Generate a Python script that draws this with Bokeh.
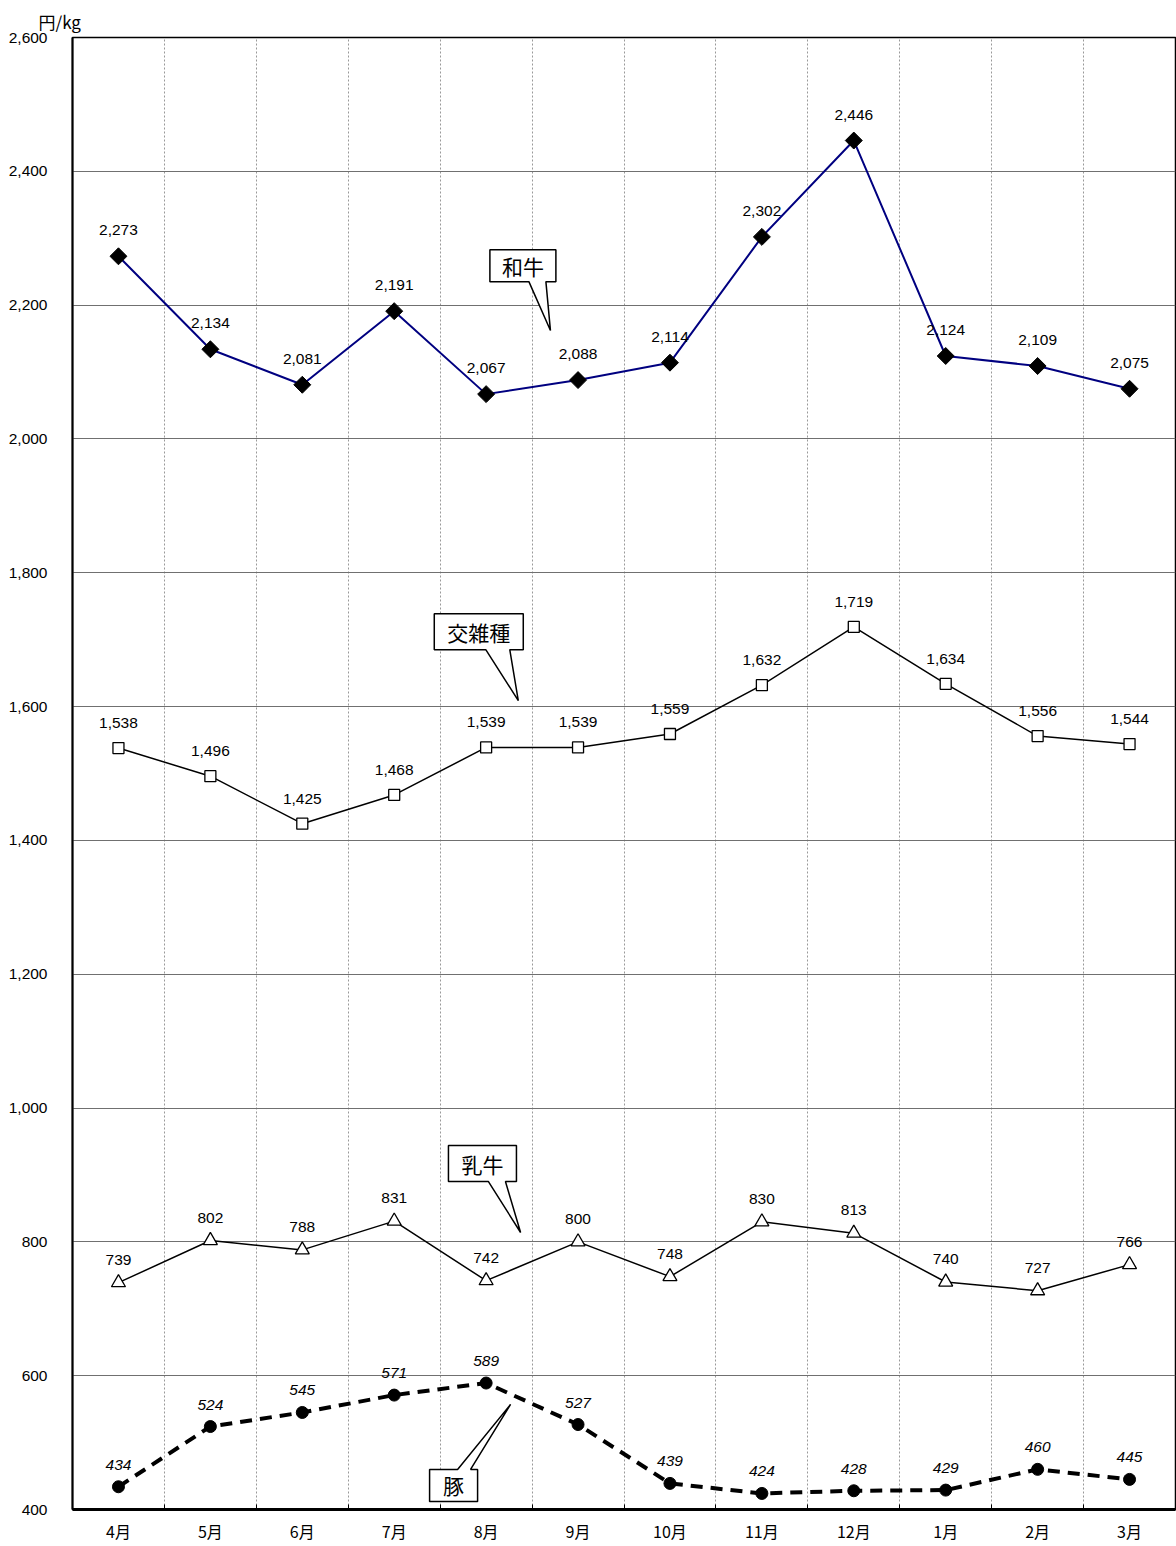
import math
from bokeh.plotting import figure
from bokeh.models import Range1d, FixedTicker, NumeralTickFormatter
from bokeh.core.properties import value
from bokeh.embed import file_html
from bokeh.resources import INLINE

months = ["4月", "5月", "6月", "7月", "8月", "9月", "10月", "11月", "12月", "1月", "2月", "3月"]
wagyu = [2273, 2134, 2081, 2191, 2067, 2088, 2114, 2302, 2446, 2124, 2109, 2075]
kozatsu = [1538, 1496, 1425, 1468, 1539, 1539, 1559, 1632, 1719, 1634, 1556, 1544]
nyugyu = [739, 802, 788, 831, 742, 800, 748, 830, 813, 740, 727, 766]
buta = [434, 524, 545, 571, 589, 527, 439, 424, 428, 429, 460, 445]
y_ticks = [400, 600, 800, 1000, 1200, 1400, 1600, 1800, 2000, 2200, 2400, 2600]

CJK = "Noto Sans CJK JP"
NUM = "Liberation Sans"
W, H = 1176, 1546
ML, MR, MT, MB = 72, 1, 37, 37
FW, FH = W - ML - MR, H - MT - MB
XMIN, XMAX, YMIN, YMAX = 0, 12, 400, 2600

p = figure(width=W, height=H, output_backend="svg", toolbar_location=None,
           x_range=Range1d(XMIN, XMAX), y_range=Range1d(YMIN, YMAX),
           min_border_left=ML, min_border_right=MR, min_border_top=MT, min_border_bottom=MB,
           background_fill_color="white", border_fill_color="white",
           title="円/kg")
p.title.align = "left"
p.title.offset = -34
p.title.text_font = CJK
p.title.text_font_size = "17px"
p.title.text_font_style = "normal"
p.title.text_color = "black"
p.title.standoff = 4
p.title.vertical_align = "top"
p.outline_line_color = "black"
p.outline_line_width = 1.5

xs = [i + 0.5 for i in range(len(months))]

# axes
p.xaxis.ticker = FixedTicker(ticks=xs, minor_ticks=list(range(1, 12)))
p.xaxis.major_label_overrides = {x: m for x, m in zip(xs, months)}
p.xaxis.major_tick_line_color = None
p.xaxis.minor_tick_in = 5
p.xaxis.minor_tick_out = 0
p.xaxis.minor_tick_line_color = "black"
p.xaxis.axis_line_width = 3
p.xaxis.major_label_standoff = 3
p.xaxis.major_label_text_font = CJK
p.xaxis.major_label_text_font_size = "16px"
p.xaxis.major_label_text_color = "black"

p.yaxis.ticker = FixedTicker(ticks=y_ticks)
p.yaxis.formatter = NumeralTickFormatter(format="0,0")
p.yaxis.major_tick_line_color = None
p.yaxis.minor_tick_line_color = None
p.yaxis.axis_line_width = 2
p.yaxis.major_label_standoff = 19
p.yaxis.major_label_text_font = NUM
p.yaxis.major_label_text_font_size = "15.5px"
p.yaxis.major_label_text_color = "black"

p.xgrid.ticker = FixedTicker(ticks=list(range(1, 12)))
p.xgrid.grid_line_color = "#999999"
p.xgrid.grid_line_dash = "2 2"
p.xgrid.grid_line_width = 1
p.ygrid.ticker = FixedTicker(ticks=y_ticks)
p.ygrid.grid_line_color = "#707070"
p.ygrid.grid_line_width = 1

# series
p.line(xs, wagyu, line_color="#000080", line_width=2)
p.scatter(xs, wagyu, marker="square", size=12, angle=math.pi / 4,
          fill_color="black", line_color="black")
p.line(xs, kozatsu, line_color="black", line_width=1.5)
p.scatter(xs, kozatsu, marker="square", size=11, fill_color="white", line_color="black", line_width=1.3)
p.line(xs, nyugyu, line_color="black", line_width=1.5)
p.scatter(xs, nyugyu, marker="triangle", size=14, fill_color="white", line_color="black", line_width=1.3)
p.line(xs, buta, line_color="black", line_width=4, line_dash="12 8")
p.scatter(xs, buta, marker="circle", size=12, fill_color="black", line_color="black")

def fmt(v):
    return f"{v:,}"

for data, off, style in [(wagyu, 26, "normal"), (kozatsu, 25, "normal"),
                         (nyugyu, 23, "normal"), (buta, 22, "italic")]:
    p.text(xs, data, text=[fmt(v) for v in data], y_offset=-off,
           text_align="center", text_baseline="middle",
           text_font=value(NUM), text_font_size="15.5px", text_color="black",
           text_font_style=style)

# callouts: (label, box centre x, box centre y, box w px, box h px, base offsets px, tip x, tip y, pointer side)
callouts = [
    ("和牛", 4.90, 2259, 66, 32, (6, 23), 5.20, 2162, "bottom"),
    ("交雑種", 4.42, 1712, 89, 36, (7, 31), 4.85, 1609, "bottom"),
    ("乳牛", 4.46, 917, 68, 36, (6, 23), 4.875, 814, "bottom"),
    ("豚", 4.146, 436, 48, 32, (4, 17), 4.766, 557, "top"),
]
sx = (XMAX - XMIN) / FW
sy = (YMAX - YMIN) / FH
for txt, cx, cy, bw, bh, (b1, b2), tx, ty, side in callouts:
    L, R = cx - bw / 2 * sx, cx + bw / 2 * sx
    T, B = cy + bh / 2 * sy, cy - bh / 2 * sy
    x1, x2 = cx + b1 * sx, cx + b2 * sx
    if side == "bottom":
        px_ = [L, R, R, x2, tx, x1, L]
        py_ = [T, T, B, B, ty, B, B]
    else:
        px_ = [L, x1, tx, x2, R, R, L]
        py_ = [T, T, ty, T, T, B, B]
    p.patch(px_, py_, fill_color="white", line_color="black", line_width=1.5)
    p.text([cx], [cy], text=[txt], text_align="center", text_baseline="middle",
           text_font=value(CJK), text_font_size="21px", text_color="black")

open("out.html", "w").write(file_html(p, INLINE))
